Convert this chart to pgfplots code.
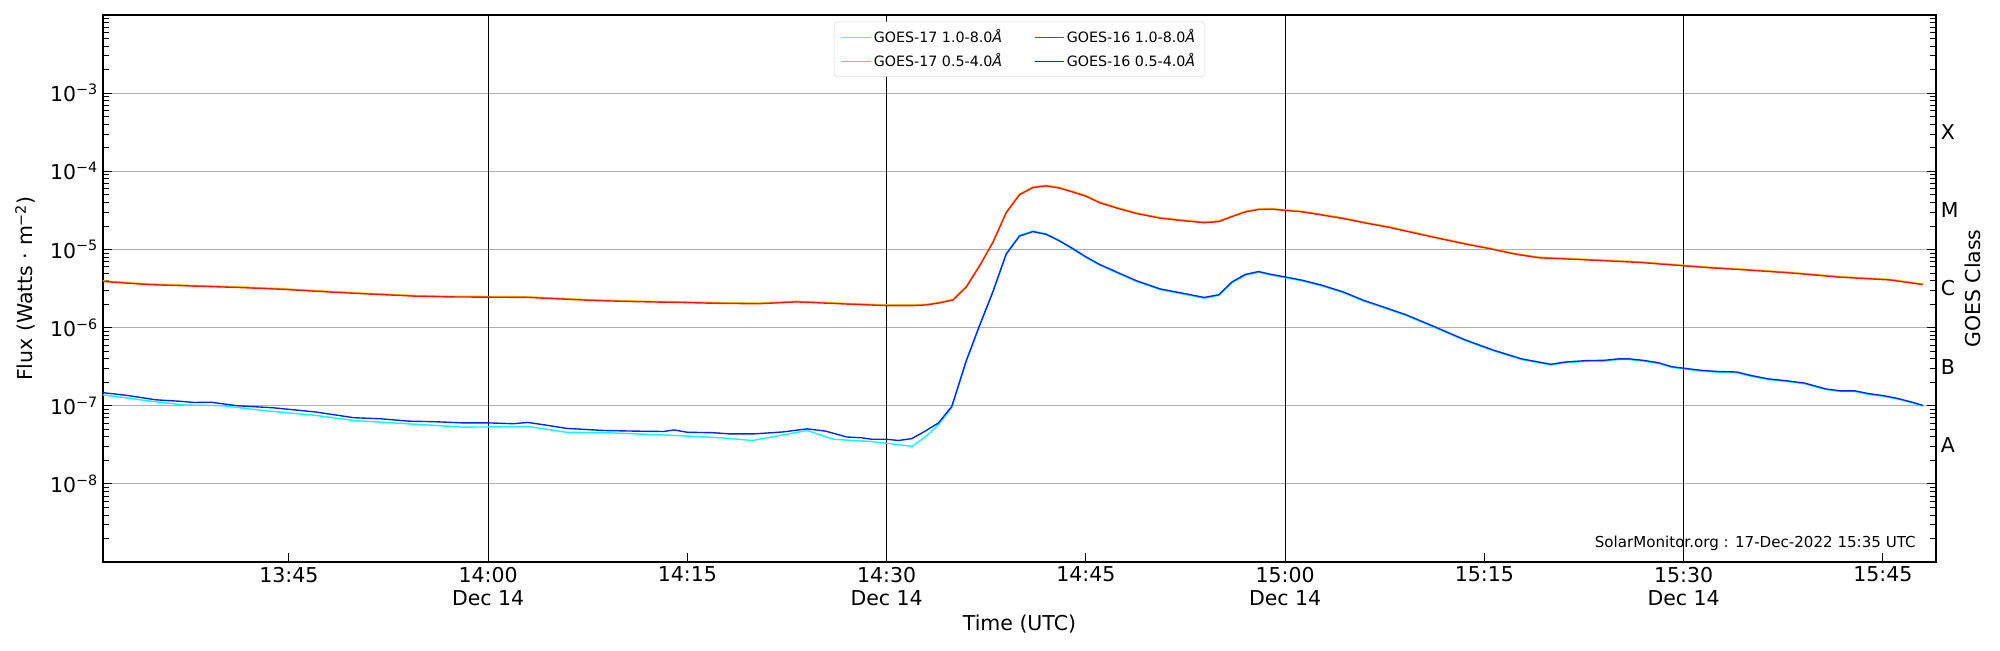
\documentclass[border=0pt]{standalone}
\usepackage{fontspec}
\setmainfont{DejaVu Sans}
\usepackage{pgfplots}
\pgfplotsset{compat=1.18}
\definecolor{gseventeenlong}{RGB}{255,192,0}
\definecolor{gsixteenlong}{RGB}{255,20,0}
\definecolor{gseventeenshort}{RGB}{0,255,255}
\definecolor{gsixteenshort}{RGB}{0,40,255}
\definecolor{gridgray}{RGB}{176,176,176}
\newcommand{\tk}{\fontsize{14.8}{16.6}\selectfont}
\begin{document}
\begin{tikzpicture}
\useasboundingbox (-74.4pt,-63.6pt) rectangle (1370.95pt,406.14pt);
\begin{axis}[
 at={(0pt,0pt)}, anchor=south west,
 width=1324.7pt, height=395.3pt, scale only axis,
 xmin=31, xmax=169, ymode=log, ymin=1e-9, ymax=1e-2,
 xtick={45,60,75,90,105,120,135,150,165},
 xticklabels={13:45,{14:00\\Dec 14},14:15,{14:30\\Dec 14},14:45,{15:00\\Dec 14},15:15,{15:30\\Dec 14},15:45},
 xtick pos=bottom,
 ytick={1e-9,1e-8,1e-7,1e-6,1e-5,1e-4,1e-3,1e-2},
 yticklabels={,10\textsuperscript{−8},10\textsuperscript{−7},10\textsuperscript{−6},10\textsuperscript{−5},10\textsuperscript{−4},10\textsuperscript{−3},},
 ytick pos=both, yticklabel pos=left,
 ymajorgrids, major grid style={gridgray, line width=0.6pt},
 extra x ticks={60,90,120,150}, extra x tick labels={},
 extra x tick style={xmajorgrids=true, major grid style={black, line width=0.7pt}},
 major tick length=6.5pt, minor tick length=4.5pt,
 tick style={black, line width=0.6pt},
 axis line style={line width=0.8pt},
 tick label style={font=\tk},
 xticklabel style={align=center},
 label style={font=\tk},
 xlabel={Time (UTC)},
 xlabel style={at={(axis description cs:0.5,0)}, anchor=center, yshift=-44.6pt},
 ylabel={Flux (Watts · m\textsuperscript{−2})},
 ylabel style={at={(axis description cs:-0.0423,0.5)}, anchor=center},
 legend style={at={(0.5,0.988)}, anchor=north, draw=black!15, rounded corners=2.5pt,
   font=\fontsize{10.3}{12}\selectfont, inner xsep=5pt, inner ysep=3.5pt, row sep=2.5pt,
   /tikz/every even column/.append style={column sep=21pt}},
 legend columns=2, legend cell align=left,
 legend image code/.code={\draw[#1,line width=0.75pt] (0pt,0pt) -- (21pt,0pt);},
]
\addplot[gseventeenlong, line width=1pt] table {
31 3.97e-6
34.4 3.62e-6
38 3.46e-6
41.2 3.33e-6
44.5 3.15e-6
47.9 2.92e-6
51 2.74e-6
54.6 2.57e-6
57 2.52e-6
60 2.50e-6
63 2.48e-6
65.5 2.37e-6
68 2.26e-6
71 2.19e-6
74.8 2.13e-6
77.5 2.08e-6
80.4 2.06e-6
83.2 2.17e-6
85 2.11e-6
87 2.04e-6
90 1.95e-6
92 1.95e-6
93 1.99e-6
94 2.11e-6
95 2.31e-6
96 3.38e-6
97 6.29e-6
98 1.25e-5
99 3.01e-5
100 5.11e-5
101 6.29e-5
102 6.63e-5
103 6.22e-5
104 5.54e-5
105 4.89e-5
106 4.06e-5
107.3 3.46e-5
108.8 2.94e-5
110.6 2.56e-5
112.2 2.39e-5
113.9 2.24e-5
115 2.32e-5
116 2.68e-5
117 3.08e-5
118 3.30e-5
119 3.34e-5
120 3.22e-5
121.3 3.08e-5
122.8 2.81e-5
124.4 2.53e-5
125.9 2.24e-5
127.8 1.96e-5
129.6 1.67e-5
131.6 1.41e-5
133.7 1.18e-5
135.3 1.05e-5
137.3 8.88e-6
139.1 7.98e-6
141.4 7.67e-6
143.5 7.38e-6
146.7 6.95e-6
150 6.29e-6
152 5.94e-6
154.2 5.64e-6
158 5.11e-6
161.7 4.51e-6
165.5 4.15e-6
168 3.62e-6
};
\addlegendentry{GOES-17 1.0-8.0{\itshape Å}}
\addplot[gsixteenlong, line width=1pt] table {
31 3.89e-6
34.4 3.55e-6
38 3.39e-6
41.2 3.26e-6
44.5 3.09e-6
47.9 2.86e-6
51 2.69e-6
54.6 2.52e-6
57 2.47e-6
60 2.45e-6
63 2.43e-6
65.5 2.32e-6
68 2.22e-6
71 2.15e-6
74.8 2.09e-6
77.5 2.04e-6
80.4 2.02e-6
83.2 2.13e-6
85 2.07e-6
87 2.00e-6
90 1.91e-6
92 1.91e-6
93 1.95e-6
94 2.07e-6
95 2.26e-6
96 3.31e-6
97 6.17e-6
98 1.23e-5
99 2.95e-5
100 5.01e-5
101 6.17e-5
102 6.50e-5
103 6.10e-5
104 5.43e-5
105 4.79e-5
106 3.98e-5
107.3 3.39e-5
108.8 2.88e-5
110.6 2.51e-5
112.2 2.34e-5
113.9 2.20e-5
115 2.27e-5
116 2.63e-5
117 3.02e-5
118 3.24e-5
119 3.27e-5
120 3.16e-5
121.3 3.02e-5
122.8 2.75e-5
124.4 2.48e-5
125.9 2.20e-5
127.8 1.92e-5
129.6 1.64e-5
131.6 1.38e-5
133.7 1.16e-5
135.3 1.03e-5
137.3 8.71e-6
139.1 7.82e-6
141.4 7.52e-6
143.5 7.24e-6
146.7 6.81e-6
150 6.17e-6
152 5.82e-6
154.2 5.53e-6
158 5.01e-6
161.7 4.42e-6
165.5 4.07e-6
168 3.55e-6
};
\addlegendentry{GOES-16 1.0-8.0{\itshape Å}}
\addplot[gseventeenshort, line width=1pt] table {
31 1.38e-7
35 1.12e-7
37.2 1.02e-7
40 1.00e-7
43 8.71e-8
47 7.52e-8
49.9 6.46e-8
55.2 5.70e-8
58.1 5.32e-8
61 5.37e-8
63 5.43e-8
65.9 4.57e-8
68.7 4.52e-8
71 4.37e-8
74 4.17e-8
75.2 4.07e-8
77.5 3.89e-8
79.9 3.59e-8
82 4.17e-8
84 4.82e-8
86 3.72e-8
88.7 3.49e-8
90 3.31e-8
91.9 3.02e-8
92.9 3.98e-8
93.9 5.75e-8
94.9 9.55e-8
96 3.75e-7
97 1.06e-6
98 2.88e-6
99 8.9e-6
100 1.51e-5
101 1.72e-5
102 1.58e-5
103 1.30e-5
104 1.01e-5
105 7.89e-6
106 6.34e-6
107.3 5.05e-6
108.8 3.90e-6
110.6 3.06e-6
112.2 2.71e-6
113.9 2.38e-6
115 2.58e-6
116 3.76e-6
117 4.69e-6
118 5.11e-6
118.9 4.71e-6
120 4.36e-6
121.3 3.95e-6
122.8 3.40e-6
124.4 2.79e-6
125.9 2.19e-6
127.3 1.82e-6
129.1 1.43e-6
131.4 9.8e-7
133.5 6.88e-7
135.7 5.03e-7
137.8 3.90e-7
140 3.32e-7
141.1 3.56e-7
142.7 3.70e-7
144 3.73e-7
145.1 3.90e-7
145.9 3.90e-7
147 3.72e-7
148.1 3.48e-7
149.1 3.10e-7
150 2.96e-7
151.3 2.78e-7
152.4 2.70e-7
154 2.65e-7
155.1 2.38e-7
156.4 2.16e-7
157.7 2.05e-7
159.1 1.91e-7
160.7 1.61e-7
161.8 1.52e-7
162.9 1.52e-7
163.9 1.40e-7
165 1.32e-7
166.1 1.22e-7
167.2 1.09e-7
168 9.9e-8
};
\addlegendentry{GOES-17 0.5-4.0{\itshape Å}}
\addplot[gsixteenshort, line width=1pt] table {
31 1.47e-7
32.75 1.36e-7
35 1.19e-7
36.8 1.14e-7
37.9 1.10e-7
39.1 1.11e-7
41.1 1.00e-7
43.8 9.42e-8
47 8.32e-8
49.9 7.02e-8
51.9 6.81e-8
54 6.35e-8
56 6.24e-8
58.1 6.03e-8
60 6.03e-8
61.9 5.89e-8
63 6.11e-8
64.2 5.70e-8
65.9 5.13e-8
68.7 4.82e-8
71.1 4.73e-8
73.2 4.68e-8
74 4.90e-8
75 4.57e-8
76.9 4.52e-8
78.1 4.37e-8
80.1 4.37e-8
82.2 4.62e-8
84 5.06e-8
85.4 4.73e-8
87 3.98e-8
88.1 3.89e-8
88.9 3.72e-8
90 3.72e-8
90.9 3.59e-8
91.9 3.80e-8
92.9 4.73e-8
93.9 6.03e-8
94.9 9.77e-8
96 3.80e-7
97 1.07e-6
98 2.88e-6
99 8.71e-6
100 1.48e-5
101 1.69e-5
102 1.56e-5
103 1.29e-5
104 1.03e-5
105 8.05e-6
106 6.47e-6
107.3 5.15e-6
108.8 3.98e-6
110.6 3.12e-6
112.2 2.77e-6
113.9 2.43e-6
115 2.63e-6
116 3.84e-6
117 4.79e-6
118 5.21e-6
118.9 4.81e-6
120 4.45e-6
121.3 4.03e-6
122.8 3.47e-6
124.4 2.85e-6
125.9 2.23e-6
127.3 1.86e-6
129.1 1.46e-6
131.4 1.00e-6
133.5 7.02e-7
135.7 5.13e-7
137.8 3.98e-7
140 3.39e-7
141.1 3.63e-7
142.7 3.78e-7
144 3.81e-7
145.1 3.98e-7
145.9 3.98e-7
147 3.80e-7
148.1 3.55e-7
149.1 3.16e-7
150 3.02e-7
151.3 2.84e-7
152.4 2.75e-7
154 2.70e-7
155.1 2.43e-7
156.4 2.20e-7
157.7 2.09e-7
159.1 1.95e-7
160.7 1.64e-7
161.8 1.55e-7
162.9 1.55e-7
163.9 1.43e-7
165 1.35e-7
166.1 1.24e-7
167.2 1.11e-7
168 1.01e-7
};
\addlegendentry{GOES-16 0.5-4.0{\itshape Å}}
\node[anchor=east, inner sep=0pt, font=\fontsize{10.9}{13}\selectfont] at ([xshift=-14.5pt,yshift=13.4pt]rel axis cs:1,0) {SolarMonitor.org : 17-Dec-2022 15:35 UTC};
\end{axis}
\begin{axis}[
 at={(0pt,0pt)}, anchor=south west,
 width=1324.7pt, height=395.3pt, scale only axis,
 xmin=31, xmax=169, ymode=log, ymin=1e-9, ymax=1e-2,
 axis x line=none, axis y line*=right,
 axis line style={line width=0.8pt},
 ytick={3.162e-8,3.162e-7,3.162e-6,3.162e-5,3.162e-4},
 yticklabels={A,B,C,M,X},
 ytick style={draw=none}, yminorticks=false,
 tick label style={font=\tk},
 label style={font=\tk},
 ylabel={GOES Class},
 ylabel style={at={(axis description cs:1.0202,0.5)}, anchor=center},
]
\end{axis}
\end{tikzpicture}
\end{document}
